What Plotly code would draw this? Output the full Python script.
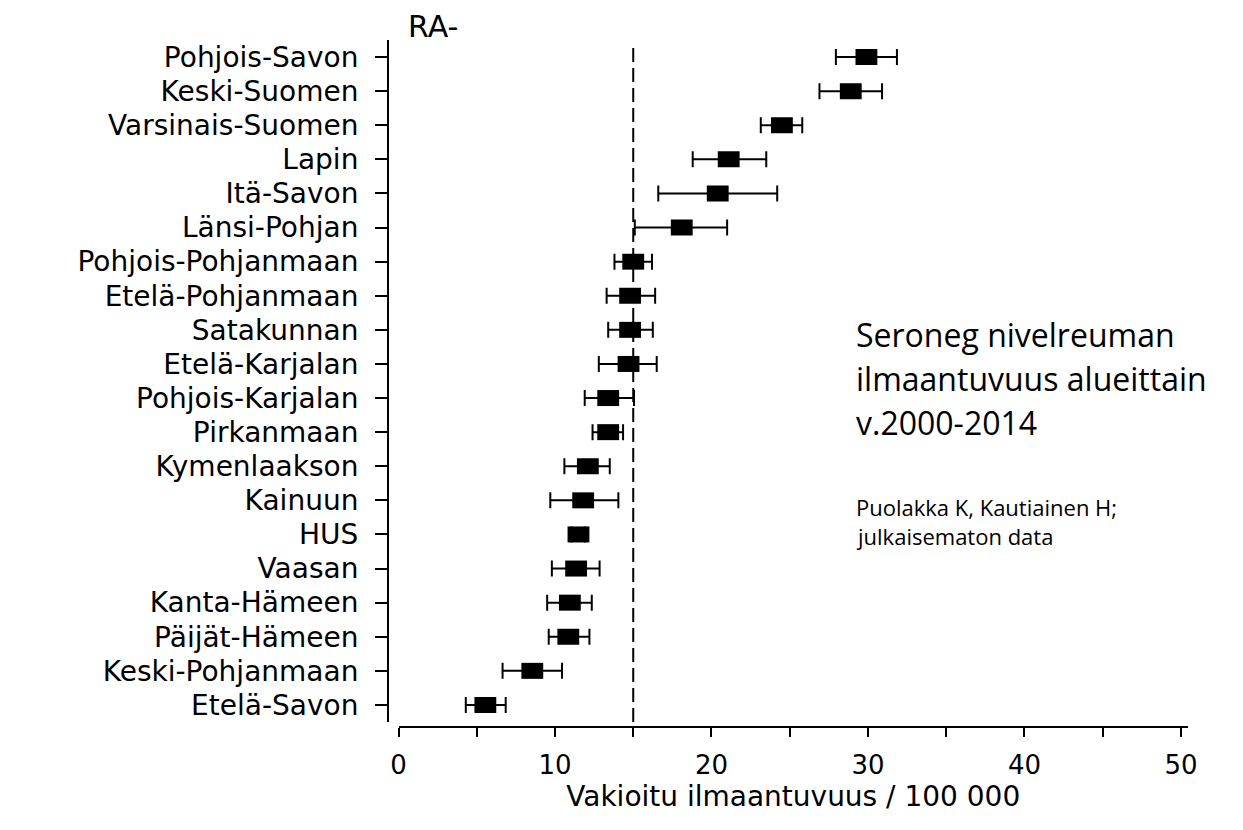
import plotly.graph_objects as go

# ---- data ----
regions = [
    "Pohjois-Savon", "Keski-Suomen", "Varsinais-Suomen", "Lapin", "Itä-Savon",
    "Länsi-Pohjan", "Pohjois-Pohjanmaan", "Etelä-Pohjanmaan", "Satakunnan",
    "Etelä-Karjalan", "Pohjois-Karjalan", "Pirkanmaan", "Kymenlaakson",
    "Kainuun", "HUS", "Vaasan", "Kanta-Hämeen", "Päijät-Hämeen",
    "Keski-Pohjanmaan", "Etelä-Savon",
]
rate = [29.9, 28.9, 24.5, 21.1, 20.4, 18.1, 15.0, 14.8, 14.8, 14.7,
        13.4, 13.4, 12.1, 11.8, 11.5, 11.35, 10.95, 10.85, 8.55, 5.55]
ci_low = [27.95, 26.9, 23.15, 18.8, 16.6, 15.1, 13.8, 13.3, 13.4, 12.8,
          11.9, 12.4, 10.6, 9.7, 11.05, 9.8, 9.5, 9.6, 6.65, 4.3]
ci_high = [31.85, 30.9, 25.8, 23.5, 24.2, 21.0, 16.2, 16.4, 16.25, 16.5,
           15.05, 14.35, 13.5, 14.05, 11.9, 12.85, 12.35, 12.2, 10.45, 6.85]
reference_rate = 15
x_tickvals = [0, 5, 10, 15, 20, 25, 30, 35, 40, 45, 50]
x_ticktext = ["0", "", "10", "", "20", "", "30", "", "40", "", "50"]

x_title = "Vakioitu ilmaantuvuus / 100 000"
panel_label = "RA-"
title_lines = ["Seroneg nivelreuman", "ilmaantuvuus alueittain", "v.2000-2014"]
source_lines = ["Puolakka K, Kautiainen H;", "julkaisematon data"]

err_plus = [h - r for h, r in zip(ci_high, rate)]
err_minus = [r - l for r, l in zip(rate, ci_low)]

# ---- layout geometry (screen pixels; page body has an 8px margin) ----
OFF = 8
W, H = 1227, 814
S_L, S_R, S_T, S_B = 388, 1200, 38, 740
ML, MT = S_L - OFF, S_T - OFF
MR, MB = (OFF + W) - S_R, (OFF + H) - S_B


def px_x(p):
    return (p - S_L) / (S_R - S_L)


def px_y(p):
    return (S_B - p) / (S_B - S_T)


fig = go.Figure()
fig.add_trace(go.Scatter(
    x=rate, y=regions, mode="markers",
    marker=dict(symbol="line-ew", size=15.6, color="black",
                line=dict(width=16, color="black")),
    error_x=dict(type="data", symmetric=False, array=err_plus,
                 arrayminus=err_minus, color="black", thickness=2, width=8),
    showlegend=False, hoverinfo="x+y",
))

fig.add_shape(type="line", xref="x", yref="paper",
              x0=reference_rate, x1=reference_rate,
              y0=px_y(722), y1=px_y(47),
              line=dict(color="black", width=2, dash="14px,6px"),
              layer="below")

fig.update_layout(
    width=W, height=H,
    margin=dict(l=ML, r=MR, t=MT, b=MB, autoexpand=False),
    paper_bgcolor="white", plot_bgcolor="white",
    font=dict(family="DejaVu Sans", color="black"),
    xaxis=dict(
        domain=[px_x(398.5), px_x(1188)], range=[0, 50.45],
        anchor="free", position=px_y(727),
        showline=True, linecolor="black", linewidth=2,
        showgrid=False, zeroline=False,
        tickmode="array", tickvals=x_tickvals, ticktext=x_ticktext,
        ticks="outside", ticklen=9, tickwidth=2, tickcolor="black",
        tickfont=dict(size=26, family="DejaVu Sans", color="black"),
        ticklabelstandoff=6,
        title=dict(text=x_title, font=dict(size=28, family="DejaVu Sans"),
                   standoff=6),
    ),
    yaxis=dict(
        domain=[px_y(722), px_y(40)],
        type="category", categoryorder="array", categoryarray=regions,
        range=[19.5, -0.5],
        tickmode="array", tickvals=regions, ticktext=regions,
        anchor="free", position=px_x(388),
        showline=True, linecolor="black", linewidth=2,
        showgrid=False, zeroline=False,
        ticks="outside", ticklen=12, tickwidth=2, tickcolor="black",
        tickfont=dict(size=28, family="DejaVu Sans", color="black"),
        ticklabelstandoff=11,
    ),
)

annotations = [
    dict(text=panel_label, x=px_x(407), y=px_y(OFF), xref="paper", yref="paper",
         xanchor="left", yanchor="top", showarrow=False, borderpad=0,
         font=dict(size=30, family="DejaVu Sans", color="black")),
]
for i, line in enumerate(title_lines):
    annotations.append(dict(
        text=line, x=px_x(854), y=px_y(334 + 44 * i), xref="paper", yref="paper",
        xanchor="left", yanchor="middle", showarrow=False,
        font=dict(size=32, family="Open Sans", color="black")))
for i, line in enumerate(source_lines):
    annotations.append(dict(
        text=line, x=px_x(854), y=px_y(507 + 29 * i), xref="paper", yref="paper",
        xanchor="left", yanchor="middle", showarrow=False,
        font=dict(size=22, family="Open Sans", color="black")))
fig.update_layout(annotations=annotations)

fig.write_html("out.html")
